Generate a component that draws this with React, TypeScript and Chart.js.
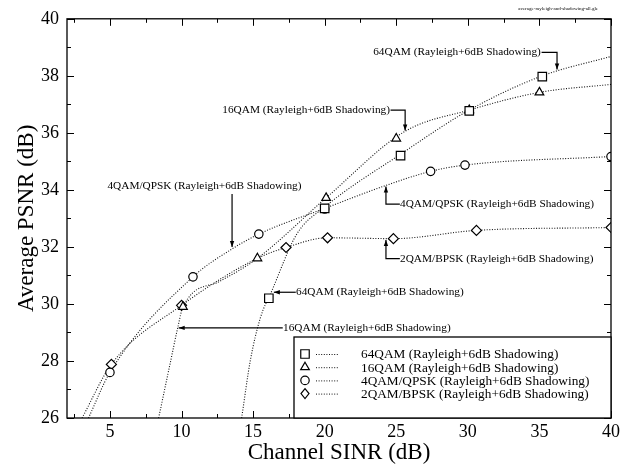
import React, { useEffect, useRef } from 'react';
import { Chart, registerables } from 'chart.js';

Chart.register(...registerables);

const FONT = '"Liberation Serif", "Times New Roman", Times, serif';

// Axis ticks
const xTickValues = [5, 10, 15, 20, 25, 30, 35, 40];
const yTickValues = [26, 28, 30, 32, 34, 36, 38, 40];
const xMinorTickValues = [2.5, 5, 7.5, 10, 12.5, 15, 17.5, 20, 22.5, 25, 27.5, 30, 32.5, 35, 37.5, 40];
const yMinorTickValues = [26, 27, 28, 29, 30, 31, 32, 33, 34, 35, 36, 37, 38, 39, 40];

// Series labels
const seriesLabels = [
  '64QAM (Rayleigh+6dB Shadowing)',
  '16QAM (Rayleigh+6dB Shadowing)',
  '4QAM/QPSK (Rayleigh+6dB Shadowing)',
  '2QAM/BPSK (Rayleigh+6dB Shadowing)',
];
const seriesMarkers = ['rect', 'triangle', 'circle', 'rectRot'];

// Measured points (markers)
const qam64X = [16.1, 20.0, 25.3, 30.1, 35.2];
const qam64Y = [30.2, 33.35, 35.2, 36.77, 37.97];
const qam16X = [10.1, 15.3, 20.1, 25.0, 30.1, 35.0];
const qam16Y = [29.9, 31.6, 33.72, 35.8, 36.8, 37.42];
const qam4X = [5.0, 10.8, 15.4, 20.0, 27.4, 29.8, 40];
const qam4Y = [27.6, 30.95, 32.45, 33.33, 34.65, 34.87, 35.17];
const qam2X = [5.1, 10.0, 17.3, 20.2, 24.8, 30.6, 40];
const qam2Y = [27.88, 29.95, 31.98, 32.32, 32.29, 32.58, 32.68];

// Fitted curves
const fit64X = [14.2, 14.8, 15.5, 16.3, 18.05, 20.0, 25.3, 30.1, 35.2, 40];
const fit64Y = [26.0, 28.0, 29.5, 30.45, 32.45, 33.4, 35.25, 36.8, 38.0, 38.68];
const fit16X = [8.4, 9.2, 9.75, 10.1, 12.7, 15.3, 20.1, 25.6, 30.1, 35.0, 40];
const fit16Y = [26.0, 27.9, 29.2, 29.9, 30.8, 31.6, 33.72, 36.05, 36.8, 37.42, 37.7];
const fit4X = [3.5, 5.0, 10.8, 13.5, 15.4, 20.0, 24.3, 27.4, 29.8, 40];
const fit4Y = [26.0, 27.6, 30.95, 31.92, 32.45, 33.35, 34.16, 34.65, 34.87, 35.17];
const fit2X = [3.05, 5.1, 10.0, 15.3, 17.3, 20.2, 24.8, 30.6, 40];
const fit2Y = [26.0, 27.88, 29.95, 31.6, 31.98, 32.32, 32.29, 32.58, 32.68];

// Annotations: text anchor and leader path in data units
const annotations = [
  { text: seriesLabels[0], tx: 35.1, ty: 38.82, align: 'right', path: [[35.15, 38.82], [36.23, 38.82], [36.23, 38.22]] },
  { text: seriesLabels[1], tx: 24.56, ty: 36.8, align: 'right', path: [[24.6, 36.8], [25.62, 36.8], [25.62, 36.08]] },
  { text: seriesLabels[2], tx: 11.6, ty: 34.13, align: 'center', path: [[13.53, 33.86], [13.53, 32.0]] },
  { text: seriesLabels[2], tx: 25.26, ty: 33.5, align: 'left', path: [[25.25, 33.5], [24.28, 33.5], [24.28, 34.12]] },
  { text: seriesLabels[3], tx: 25.26, ty: 31.59, align: 'left', path: [[25.25, 31.59], [24.28, 31.59], [24.28, 32.24]] },
  { text: seriesLabels[0], tx: 18.0, ty: 30.41, align: 'left', path: [[17.98, 30.41], [16.45, 30.41]] },
  { text: seriesLabels[1], tx: 17.09, ty: 29.16, align: 'left', path: [[17.07, 29.16], [9.8, 29.16]] },
];

const fileTag = 'average-rayleigh-and-shadowing-all.gle';

const zip = (xs: number[], ys: number[]) => xs.map((x, i) => ({ x, y: ys[i] }));

const markerRadius: Record<string, number> = { rect: 6, triangle: 5, circle: 4.2, rectRot: 5 };

function drawMarker(ctx: CanvasRenderingContext2D, style: string, x: number, y: number) {
  const r = markerRadius[style];
  ctx.save();
  ctx.beginPath();
  if (style === 'rect') {
    const s = Math.SQRT1_2 * r;
    ctx.rect(x - s, y - s, 2 * s, 2 * s);
  } else if (style === 'triangle') {
    ctx.moveTo(x, y - r);
    ctx.lineTo(x + r * 0.866, y + r * 0.5);
    ctx.lineTo(x - r * 0.866, y + r * 0.5);
    ctx.closePath();
  } else if (style === 'circle') {
    ctx.arc(x, y, r, 0, Math.PI * 2);
  } else {
    ctx.moveTo(x, y - r);
    ctx.lineTo(x + r * 0.8, y);
    ctx.lineTo(x, y + r);
    ctx.lineTo(x - r * 0.8, y);
    ctx.closePath();
  }
  ctx.fillStyle = '#fff';
  ctx.fill();
  ctx.lineWidth = 1.2;
  ctx.strokeStyle = '#000';
  ctx.stroke();
  ctx.restore();
}

const decorPlugin = {
  id: 'decor',
  afterDatasetsDraw(chart: any) {
    const { ctx, chartArea: ca, scales } = chart;
    const sx = scales.x;
    const sy = scales.y;
    ctx.save();

    // Frame
    ctx.strokeStyle = '#000';
    ctx.lineWidth = 1.3;
    ctx.strokeRect(ca.left, ca.top, ca.right - ca.left, ca.bottom - ca.top);

    // Ticks (inward)
    ctx.lineWidth = 1;
    ctx.beginPath();
    xMinorTickValues.forEach((v) => {
      const p = Math.round(sx.getPixelForValue(v)) + 0.5;
      const len = xTickValues.includes(v) ? 7 : 4;
      ctx.moveTo(p, ca.bottom);
      ctx.lineTo(p, ca.bottom - len);
      ctx.moveTo(p, ca.top);
      ctx.lineTo(p, ca.top + len);
    });
    yMinorTickValues.forEach((v) => {
      const p = Math.round(sy.getPixelForValue(v)) + 0.5;
      const len = yTickValues.includes(v) ? 7 : 4;
      ctx.moveTo(ca.left, p);
      ctx.lineTo(ca.left + len, p);
      ctx.moveTo(ca.right, p);
      ctx.lineTo(ca.right - len, p);
    });
    ctx.stroke();

    // Annotations
    ctx.font = `11.3px ${FONT}`;
    ctx.fillStyle = '#000';
    ctx.textBaseline = 'middle';
    annotations.forEach((a) => {
      ctx.textAlign = a.align as CanvasTextAlign;
      ctx.fillText(a.text, sx.getPixelForValue(a.tx), sy.getPixelForValue(a.ty));
      const pts = a.path.map(([x, y]) => [sx.getPixelForValue(x), sy.getPixelForValue(y)]);
      ctx.beginPath();
      ctx.lineWidth = 1.2;
      pts.forEach(([x, y], i) => (i === 0 ? ctx.moveTo(x, y) : ctx.lineTo(x, y)));
      ctx.stroke();
      const [x1, y1] = pts[pts.length - 2];
      const [x2, y2] = pts[pts.length - 1];
      const ang = Math.atan2(y2 - y1, x2 - x1);
      const L = 6;
      const W = 2.2;
      ctx.beginPath();
      ctx.moveTo(x2, y2);
      ctx.lineTo(x2 - L * Math.cos(ang) + W * Math.sin(ang), y2 - L * Math.sin(ang) - W * Math.cos(ang));
      ctx.lineTo(x2 - L * Math.cos(ang) - W * Math.sin(ang), y2 - L * Math.sin(ang) + W * Math.cos(ang));
      ctx.closePath();
      ctx.fill();
    });

    // Legend box
    const bl = ca.right - 317;
    const bt = ca.bottom - 81;
    ctx.fillStyle = '#fff';
    ctx.fillRect(bl, bt, ca.right - bl, ca.bottom - bt);
    ctx.strokeStyle = '#000';
    ctx.lineWidth = 1.3;
    ctx.strokeRect(bl, bt, ca.right - bl, ca.bottom - bt);
    ctx.font = `13.3px ${FONT}`;
    ctx.textAlign = 'left';
    ctx.textBaseline = 'middle';
    seriesLabels.forEach((label, i) => {
      const y = bt + 17 + i * 13.2;
      drawMarker(ctx, seriesMarkers[i], bl + 11, y);
      ctx.save();
      ctx.setLineDash([1, 1.6]);
      ctx.lineWidth = 1;
      ctx.strokeStyle = '#111';
      ctx.beginPath();
      ctx.moveTo(bl + 22, y + 0.5);
      ctx.lineTo(bl + 44, y + 0.5);
      ctx.stroke();
      ctx.restore();
      ctx.fillStyle = '#000';
      ctx.fillText(label, bl + 67, y + 1);
    });

    // Axis titles
    ctx.fillStyle = '#000';
    ctx.font = `23px ${FONT}`;
    ctx.textAlign = 'center';
    ctx.textBaseline = 'middle';
    ctx.fillText('Channel SINR (dB)', (ca.left + ca.right) / 2, 453);
    ctx.save();
    ctx.translate(27, (ca.top + ca.bottom) / 2);
    ctx.rotate(-Math.PI / 2);
    ctx.fillText('Average PSNR (dB)', 0, 0);
    ctx.restore();

    // File tag
    ctx.font = `5px ${FONT}`;
    ctx.textAlign = 'right';
    ctx.fillText(fileTag, 598, 9);

    ctx.restore();
  },
};

export default function App() {
  const canvasRef = useRef<HTMLCanvasElement | null>(null);

  useEffect(() => {
    const canvas = canvasRef.current;
    if (!canvas) return;

    const fits = [zip(fit64X, fit64Y), zip(fit16X, fit16Y), zip(fit4X, fit4Y), zip(fit2X, fit2Y)];
    const marks = [zip(qam64X, qam64Y), zip(qam16X, qam16Y), zip(qam4X, qam4Y), zip(qam2X, qam2Y)];

    const markerSets = marks.map((data, i) => ({
      type: 'scatter' as const,
      label: seriesLabels[i],
      data,
      showLine: false,
      pointStyle: seriesMarkers[i],
      pointRadius: markerRadius[seriesMarkers[i]],
      pointBackgroundColor: '#fff',
      pointBorderColor: '#000',
      pointBorderWidth: 1.2,
      order: 0,
    }));
    const curveSets = fits.map((data, i) => ({
      type: 'line' as const,
      label: seriesLabels[i] + ' fit',
      data,
      borderColor: '#111',
      borderWidth: 1.1,
      borderDash: [1, 1.6],
      pointRadius: 0,
      cubicInterpolationMode: 'monotone' as const,
      fill: false,
      order: 1,
    }));

    const chart = new Chart(canvas, {
      type: 'scatter',
      data: { datasets: [...markerSets, ...curveSets] as any },
      options: {
        animation: false,
        responsive: false,
        devicePixelRatio: 1,
        layout: { padding: { top: 15, right: 12, left: 0, bottom: 0 } },
        plugins: { legend: { display: false }, tooltip: { enabled: false } },
        scales: {
          x: {
            type: 'linear',
            min: 2,
            max: 40,
            grid: { display: false, drawTicks: false },
            border: { display: false },
            ticks: { font: { family: FONT, size: 18 }, color: '#000', padding: 3, maxRotation: 0 },
            afterBuildTicks: (scale: any) => {
              scale.ticks = xTickValues.map((v) => ({ value: v }));
            },
            afterFit: (scale: any) => {
              scale.height = 48;
            },
          },
          y: {
            type: 'linear',
            min: 26,
            max: 40,
            grid: { display: false, drawTicks: false },
            border: { display: false },
            ticks: { font: { family: FONT, size: 18 }, color: '#000', padding: 8 },
            afterBuildTicks: (scale: any) => {
              scale.ticks = yTickValues.map((v) => ({ value: v }));
            },
            afterFit: (scale: any) => {
              scale.width = 67;
            },
          },
        },
      },
      plugins: [decorPlugin],
    });

    return () => chart.destroy();
  }, []);

  return (
    <div style={{ position: 'fixed', left: 0, top: 0, width: 623, height: 466, background: '#fff' }}>
      <canvas ref={canvasRef} width={623} height={466} style={{ display: 'block' }} />
    </div>
  );
}
